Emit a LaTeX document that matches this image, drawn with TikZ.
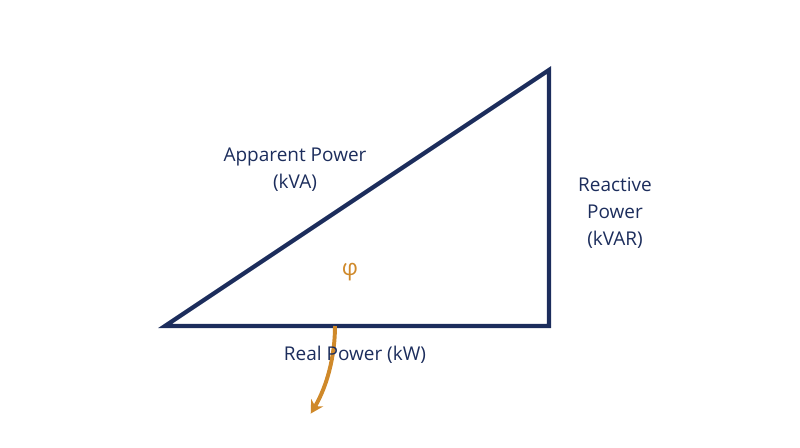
\documentclass[tikz,border=0pt]{standalone}
\usepackage{fontspec}
\setmainfont{Open Sans}
\usetikzlibrary{arrows.meta}
\definecolor{tri_navy}{RGB}{28,45,92}
\definecolor{arc_orange}{RGB}{207,137,42}

\begin{document}
\begin{tikzpicture}[x=0.025cm,y=-0.025cm]
    \tikzstyle{side}=[draw=tri_navy, line width=3pt, line join=miter]
    \tikzstyle{label}=[text=tri_navy, align=center, font=\fontsize{13.5}{19}\selectfont]
    \useasboundingbox (0,0) rectangle (800,447);

    \coordinate (A) at (165,326);
    \coordinate (B) at (549,326);
    \coordinate (C) at (549,70);

    \draw[side] (A) -- (B) -- (C) -- cycle;
    \draw[arc_orange, line width=2.8pt, -{Stealth[length=9pt,width=10pt]}]
      (335,326) arc[start angle=0, end angle=31, radius=170];

    \node[label] (hyp) at (295,170) {Apparent Power\\(kVA)};
    \node[label] (opp) at (615,213) {Reactive\\Power\\(kVAR)};
    \node[label] (adj) at (355,355) {Real Power (kW)};
    \node[text=arc_orange, font=\fontsize{16}{19}\selectfont] (phi) at (350,272) {φ};
\end{tikzpicture}
\end{document}
